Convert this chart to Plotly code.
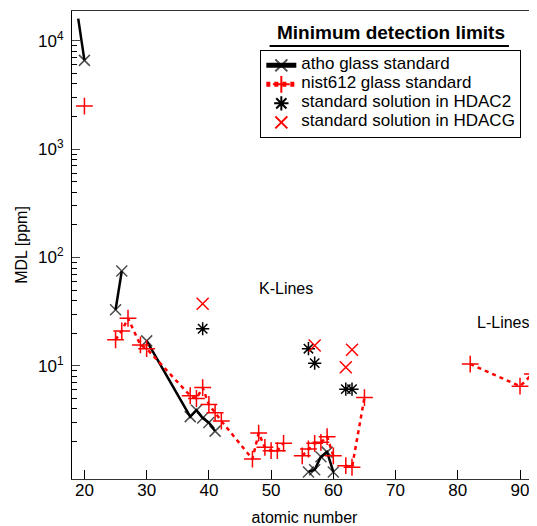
import plotly.graph_objects as go

# ---- data (atomic number, MDL in ppm); None breaks a line ----
atho_z = [19, 20, 21, 25, 26, 27, 30, 37, 38, 39, 40, 41, 42, 56, 57, 58, 59, 60]
atho_mdl = [16000, 6600, None, 33, 75, None, 17, 3.4, 3.9, 3.3, 3.0, 2.5, None, 1.05, 1.1, 1.45, 1.6, 1.05]

nist_z = [20, 21, 25, 26, 27, 29, 30, 37, 38, 39, 40, 41, 42, 47, 48, 49, 50, 51, 52, 53,
          55, 56, 57, 58, 59, 60, 61, 62, 63, 65, 66, 82, 90, 92]
nist_mdl = [2500, None, 17.4, 21, 27.5, 15.6, 14.4, 5.3, 5.0, 6.3, 4.4, 3.7, 3.1, 1.38, 2.4, 1.77, 1.65, 1.65, 1.93, None,
            1.48, 1.71, 1.93, 1.97, 2.22, 1.48, None, 1.2, 1.16, 5.1, None, 10.4, 6.5, 8.4]

hdac2_z = [39, 56, 57, 62, 63]
hdac2_mdl = [22, 14.4, 10.6, 6.1, 6.1]

hdacg_z = [39, 57, 62, 63]
hdacg_mdl = [37.5, 15.4, 9.7, 14.1]

x_ticks = [20, 30, 40, 50, 60, 70, 80, 90]
y_ticks = [10, 100, 1000, 10000]
y_ticktext = ["10<sup>1</sup>", "10<sup>2</sup>", "10<sup>3</sup>", "10<sup>4</sup>"]
y_minor = [m * 10 ** k for k in range(0, 4) for m in range(2, 10)]

FONT = "Liberation Sans, Arial, sans-serif"


def leg(txt):
    return '<span style="font-size:17px">' + txt + '</span>'


fig = go.Figure()

atho_sizes = [0] + [11] * (len(atho_z) - 1)
fig.add_trace(go.Scatter(
    x=atho_z, y=atho_mdl, mode="lines+markers", name=leg("atho glass standard"),
    line=dict(color="black", width=2.5),
    marker=dict(symbol="x-thin-open", size=atho_sizes, color="black",
                line=dict(color="black", width=1.5)),
    connectgaps=False,
))
fig.add_trace(go.Scatter(
    x=nist_z, y=nist_mdl, mode="lines+markers", name=leg("nist612 glass standard"),
    line=dict(color="red", width=2.5, dash="4px,4px"),
    marker=dict(symbol="cross-thin-open", size=12, color="red",
                line=dict(color="red", width=1.5)),
    connectgaps=False,
))
fig.add_trace(go.Scatter(
    x=hdac2_z, y=hdac2_mdl, mode="markers", name=leg("standard solution in HDAC2"),
    marker=dict(symbol="asterisk-open", size=11, color="black",
                line=dict(color="black", width=1.5)),
))
fig.add_trace(go.Scatter(
    x=hdacg_z, y=hdacg_mdl, mode="markers", name=leg("standard solution in HDACG"),
    marker=dict(symbol="x-thin-open", size=12, color="red",
                line=dict(color="red", width=1.5)),
))

# page body has an 8px margin, so the figure is 8px smaller than the window
fig.update_layout(
    width=529, height=518,
    margin=dict(l=64, r=0, t=3, b=40),
    paper_bgcolor="white", plot_bgcolor="white",
    font=dict(family=FONT, size=16, color="black"),
    showlegend=True,
    legend=dict(
        x=0.405, y=0.917, xanchor="left", yanchor="top",
        bordercolor="black", borderwidth=1, bgcolor="white",
        font=dict(family=FONT, size=10, color="black"),
        tracegroupgap=0, itemsizing="constant",
    ),
    xaxis=dict(
        range=[18, 92.73], tickvals=x_ticks, ticks="inside", ticklen=9,
        tickcolor="black", showline=True, linecolor="#333", linewidth=1,
        mirror=True, showgrid=False, zeroline=False, ticklabelstandoff=-4,
        tickfont=dict(family=FONT, size=17),
        title=dict(text="atomic number", font=dict(family=FONT, size=16), standoff=14),
    ),
    yaxis=dict(
        type="log", range=[-0.044, 4.275], tickvals=y_ticks, ticktext=y_ticktext,
        ticks="inside", ticklen=8, tickcolor="#444", ticklabelstandoff=4,
        minor=dict(tickvals=y_minor, ticks="inside", ticklen=5, tickcolor="black", showgrid=False),
        showline=True, linecolor="black", linewidth=1, mirror=False,
        showgrid=False, zeroline=False,
        tickfont=dict(family=FONT, size=17),
        title=dict(text="MDL [ppm]", font=dict(family=FONT, size=16), standoff=6),
    ),
)

fig.add_annotation(x=0.685, y=0.953, xref="paper", yref="paper",
                   xanchor="center", yanchor="middle",
                   text="<b>Minimum detection limits</b>", showarrow=False,
                   font=dict(family=FONT, size=19, color="black"))
fig.add_shape(type="line", xref="paper", yref="paper", x0=0.4249, x1=0.9397,
              y0=0.925, y1=0.925, line=dict(color="black", width=2))
fig.add_annotation(x=52.4, y=1.717, xref="x", yref="y", text="K-Lines",
                   xanchor="center", yanchor="middle",
                   showarrow=False, font=dict(family=FONT, size=16))
fig.add_annotation(x=87.27, y=1.403, xref="x", yref="y", text="L-Lines",
                   xanchor="center", yanchor="middle",
                   showarrow=False, font=dict(family=FONT, size=16))

fig.write_html("out.html")
